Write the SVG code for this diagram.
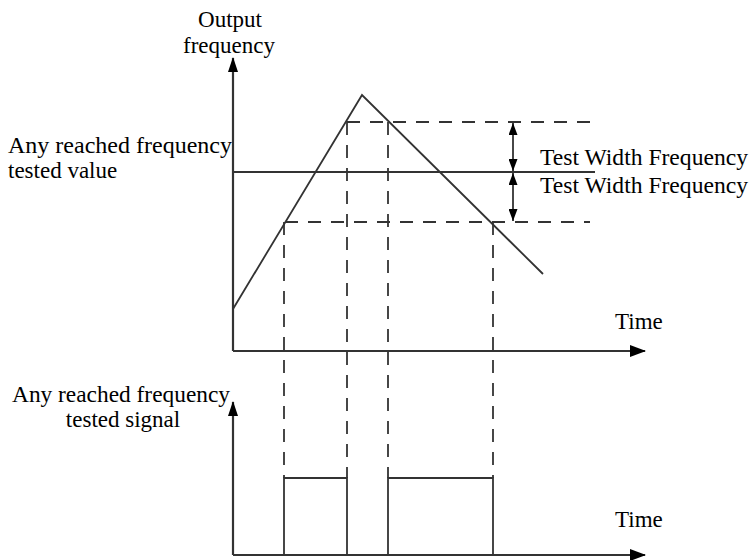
<svg xmlns="http://www.w3.org/2000/svg" width="750" height="560" viewBox="0 0 750 560">
<defs>
<style>
.t{font-family:"Liberation Serif","Times New Roman",serif;font-size:23px;fill:#000}
.ax{stroke:#333;stroke-width:2.2;fill:none}
.ln{stroke:#333;stroke-width:1.8;fill:none}
.da{stroke:#333;stroke-width:1.8;fill:none;stroke-dasharray:13 10}
</style>
<marker id="ah" viewBox="0 0 16 12" refX="15" refY="6" markerWidth="16" markerHeight="12" markerUnits="userSpaceOnUse" orient="auto-start-reverse">
<path d="M0,0 L16,6 L0,12 Z" fill="#000"/>
</marker>
<marker id="av" viewBox="0 0 15 10" refX="14" refY="5" markerWidth="15" markerHeight="10" markerUnits="userSpaceOnUse" orient="auto-start-reverse">
<path d="M0,0 L15,5 L0,10 Z" fill="#000"/>
</marker>
<marker id="sh" viewBox="0 0 12 9" refX="12" refY="4.5" markerWidth="12" markerHeight="9" markerUnits="userSpaceOnUse" orient="auto-start-reverse">
<path d="M0,0 L12,4.5 L0,9 Z" fill="#000"/>
</marker>
</defs>
<rect width="750" height="560" fill="#fff"/>
<g id="labels">
<text class="t" x="230" y="27" text-anchor="middle">Output</text>
<text class="t" x="229" y="53" text-anchor="middle">frequency</text>
<text class="t" x="8" y="153" textLength="224" lengthAdjust="spacingAndGlyphs">Any reached frequency</text>
<text class="t" x="8" y="178">tested value</text>
<text class="t" x="540" y="165" textLength="208" lengthAdjust="spacingAndGlyphs">Test Width Frequency</text>
<text class="t" x="540" y="193" textLength="208" lengthAdjust="spacingAndGlyphs">Test Width Frequency</text>
<text class="t" x="615" y="329">Time</text>
<text class="t" x="12" y="402" textLength="218" lengthAdjust="spacingAndGlyphs">Any reached frequency</text>
<text class="t" x="123" y="427" text-anchor="middle">tested signal</text>
<text class="t" x="615" y="527">Time</text>
</g>
<g id="axes">
<line class="ax" x1="233" y1="351" x2="233" y2="58" marker-end="url(#av)"/>
<line class="ax" x1="233" y1="351" x2="645" y2="351" marker-end="url(#ah)"/>
<line class="ax" x1="233" y1="555" x2="233" y2="402" marker-end="url(#av)"/>
<line class="ax" x1="233" y1="555" x2="645" y2="555" marker-end="url(#ah)"/>
</g>
<g id="frequency-curve">
<polyline class="ln" points="233,309 362,95 543,274"/>
<line class="ln" x1="233" y1="172" x2="595" y2="172"/>
</g>
<g id="connectors">
<line class="da" x1="347" y1="122" x2="597" y2="122"/>
<line class="da" x1="285" y1="222" x2="590" y2="222"/>
<line class="da" x1="284" y1="222" x2="284" y2="478"/>
<line class="da" x1="347" y1="122" x2="347" y2="478"/>
<line class="da" x1="388" y1="122" x2="388" y2="478"/>
<line class="da" x1="493" y1="222" x2="493" y2="478"/>
<line class="ln" x1="513" y1="123" x2="513" y2="171" marker-start="url(#sh)" marker-end="url(#sh)"/>
<line class="ln" x1="513" y1="173" x2="513" y2="221" marker-start="url(#sh)" marker-end="url(#sh)"/>
</g>
<g id="signal">
<polyline class="ln" points="284,555 284,478 347,478 347,555"/>
<polyline class="ln" points="388,555 388,478 493,478 493,555"/>
</g>
</svg>
